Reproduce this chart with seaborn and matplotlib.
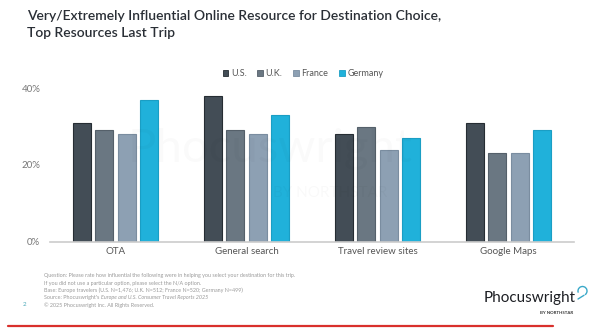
import matplotlib
matplotlib.use("Agg")
import matplotlib.pyplot as plt
import seaborn as sns
import pandas as pd
from matplotlib.patches import Patch, Arc
from matplotlib.lines import Line2D

categories = ["OTA", "General search", "Travel review sites", "Google Maps"]
countries = ["U.S.", "U.K.", "France", "Germany"]
us = [31, 38, 28, 31]
uk = [29, 29, 30, 23]
france = [28, 28, 24, 23]
germany = [37, 33, 27, 29]
yticks = [0, 20, 40]
ytick_labels = ["0%", "20%", "40%"]

colors = ["#434d56", "#6a7782", "#8da0b3", "#20b1da"]
edges = ["#262d33", "#55606a", "#7a8da0", "#1a9ec4"]

rows = []
for c, vals in zip(countries, [us, uk, france, germany]):
    for cat, v in zip(categories, vals):
        rows.append({"cat": cat, "country": c, "value": v})
df = pd.DataFrame(rows)

sns.set_theme(style="white")
plt.rcParams["font.family"] = ["Lato", "DejaVu Sans"]

fig = plt.figure(figsize=(6.0, 3.32), dpi=100)
ax = fig.add_axes([50/600, (332-241.7)/332, 524/600, 153.4/332])

sns.barplot(data=df, x="cat", y="value", hue="country", order=categories,
            hue_order=countries, palette=colors, width=0.69, gap=0.2,
            saturation=1, legend=False, ax=ax, errorbar=None)

for i, cont in enumerate(ax.containers):
    for p in cont:
        p.set_edgecolor(edges[i])
        p.set_linewidth(0.8)

ax.set_xlim(-0.5, 3.5)
ax.set_ylim(0, 40)
ax.set_yticks(yticks)
ax.set_yticklabels(ytick_labels, fontsize=7, color="#777777")
ax.tick_params(axis="x", labelsize=7, colors="#555555", length=0, pad=4)
ax.tick_params(axis="y", length=0, pad=7)
ax.set_xlabel("")
ax.set_ylabel("")
for s in ["top", "right", "left"]:
    ax.spines[s].set_visible(False)
ax.spines["bottom"].set_color("#cccccc")
ax.spines["bottom"].set_linewidth(1.2)

# watermark
fig.text(0.45, 0.55, "Phocuswright", fontsize=34, color="#000000", alpha=0.02,
         ha="center", va="center")
fig.text(0.55, 0.42, "BY NORTHSTAR", fontsize=11, color="#000000", alpha=0.025,
         ha="center", va="center")

# legend
handles = [Patch(facecolor=colors[i], edgecolor=edges[i], linewidth=0.6) for i in range(4)]
fig.legend(handles, countries, loc="center", bbox_to_anchor=(0.505, 1-74/332),
           ncol=4, frameon=False, fontsize=6.5, handlelength=0.6, handleheight=0.6,
           handletextpad=0.3, columnspacing=1.2, labelcolor="#555555")

# title
fig.text(27/600, 1-10/332, "Very/Extremely Influential Online Resource for Destination Choice,\nTop Resources Last Trip",
         fontsize=10, fontweight="semibold", color="#2a2f36", ha="left", va="top",
         linespacing=1.5)

# footnotes
foot = [
    "Question: Please rate how influential the following were in helping you select your destination for this trip.",
    "If you did not use a particular option, please select the N/A option.",
    "Base: Europe travelers (U.S. N=1,476; U.K. N=512; France N=520; Germany N=499)",
    "Source: Phocuswright's ",
    "\u00a9 2025 Phocuswright Inc. All Rights Reserved.",
]
fkw = dict(fontsize=3.9, color="#9a9a9a", va="center")
texts = []
for i, line in enumerate(foot):
    texts.append(fig.text(44/600, 1-(276+i*7.2)/332, line, ha="left", **fkw))
fig.canvas.draw()
bb = texts[3].get_window_extent()
x_it = bb.x1 / fig.bbox.width
fig.text(x_it, 1-(276+3*7.2)/332, "Europe and U.S. Consumer Travel Reports 2025",
         ha="left", style="italic", **fkw)
fig.text(23/600, 1-304/332, "2", fontsize=4.5, color="#4aa8b8", ha="left", va="center")

# logo
fig.text(576/600, 1-298/332, "Phocuswright", fontsize=11, color="#1d1f24",
         ha="right", va="center")
fig.text(573/600, 1-313/332, "BY NORTHSTAR", fontsize=3.2, color="#333333",
         ha="right", va="center", fontweight="bold")
fig.add_artist(Arc((582.5/600, 1-291/332), 9/600, 9/332, theta1=-70, theta2=215,
                   color="#3aa9c9", linewidth=1.0, transform=fig.transFigure))
fig.add_artist(Line2D([584/600, 578/600], [1-295.3/332, 1-299/332],
                      color="#3aa9c9", linewidth=1.0, transform=fig.transFigure))

# red rule
fig.add_artist(Line2D([8/600, 553/600], [1-325.5/332, 1-325.5/332],
                      color="#d9302c", linewidth=1.6, transform=fig.transFigure))

fig.savefig("out.png", dpi=100, facecolor="white")
